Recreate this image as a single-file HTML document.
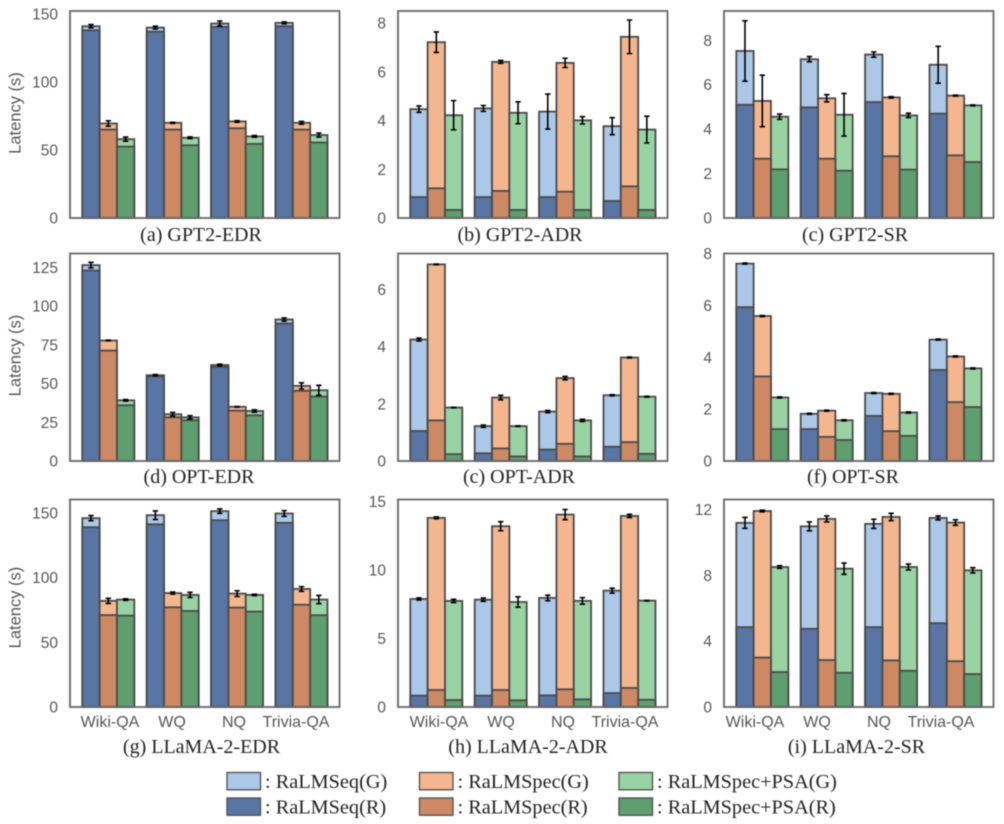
<!DOCTYPE html>
<html lang="en">
<head>
<meta charset="utf-8">
<title>Latency of RaLMSeq and RaLMSpec</title>
<style>
html,body{margin:0;padding:0;background:#fff;}
#chart{display:block;width:1004px;height:824px;filter:blur(0.45px);}
.tick{font-family:"Liberation Sans",sans-serif;font-size:15.5px;fill:#555;}
.ylab{font-family:"Liberation Sans",sans-serif;font-size:16.5px;fill:#555;}
.cap{font-family:"Liberation Serif",serif;font-size:20px;fill:#222;}
.legtext{font-family:"Liberation Serif",serif;font-size:20.3px;fill:#222;}
</style>
</head>
<body>
<svg id="chart" xmlns="http://www.w3.org/2000/svg" width="1004" height="824" viewBox="0 0 1004 824">
  <g id="plots"></g>
  <g id="legend"></g>
</svg>
<script>
/* Categories and series */
const categories = ['Wiki-QA', 'WQ', 'NQ', 'Trivia-QA'];
const methods = ['RaLMSeq', 'RaLMSpec', 'RaLMSpec+PSA'];

/* Each panel: one row per method, one value per category */
const gpt2EdrG = [[141, 140, 143, 143.5], [69.5, 70, 71, 70], [58, 59, 60, 61]];
const gpt2EdrR = [[138, 137, 140.5, 141], [65, 65, 66, 65], [52.5, 53.5, 54.5, 55.5]];
const gpt2EdrErr = [[1.2, 1, 1.8, 0.7], [2, 0.4, 0.6, 1], [1.5, 0.6, 0.6, 1.5]];
const gpt2EdrTicks = [0, 50, 100, 150];

const gpt2AdrG = [[4.47, 4.5, 4.37, 3.77], [7.22, 6.41, 6.37, 7.44], [4.22, 4.32, 4.01, 3.63]];
const gpt2AdrR = [[0.86, 0.86, 0.86, 0.7], [1.22, 1.11, 1.08, 1.3], [0.33, 0.33, 0.33, 0.33]];
const gpt2AdrErr = [[0.13, 0.12, 0.72, 0.35], [0.42, 0.06, 0.19, 0.69], [0.6, 0.45, 0.15, 0.55]];
const gpt2AdrTicks = [0, 2, 4, 6, 8];

const gpt2SrG = [[7.52, 7.15, 7.36, 6.9], [5.27, 5.39, 5.43, 5.51], [4.56, 4.65, 4.62, 5.07]];
const gpt2SrR = [[5.1, 4.98, 5.22, 4.7], [2.67, 2.67, 2.78, 2.82], [2.19, 2.13, 2.18, 2.52]];
const gpt2SrErr = [[1.36, 0.12, 0.12, 0.83], [1.16, 0.16, 0.03, 0.02], [0.12, 0.96, 0.1, 0.02]];
const gpt2SrTicks = [0, 2, 4, 6, 8];

const optEdrG = [[126.5, 55.4, 62, 91.4], [77.8, 30.2, 35, 48.5], [39.2, 28.2, 32.3, 45.7]];
const optEdrR = [[123, 54.7, 60.8, 88.8], [71.3, 28.2, 32.5, 45.3], [36, 26.3, 29.5, 41.6]];
const optEdrErr = [[1.8, 0.4, 0.5, 1], [0.2, 1.2, 0.2, 2], [0.5, 1.1, 0.8, 3.2]];
const optEdrTicks = [0, 25, 50, 75, 100, 125];

const optAdrG = [[4.25, 1.22, 1.73, 2.3], [6.88, 2.22, 2.9, 3.62], [1.87, 1.22, 1.42, 2.25]];
const optAdrR = [[1.05, 0.27, 0.4, 0.5], [1.42, 0.44, 0.6, 0.66], [0.24, 0.16, 0.16, 0.25]];
const optAdrErr = [[0.05, 0.04, 0.04, 0.02], [0.01, 0.08, 0.06, 0.015], [0.01, 0.01, 0.04, 0.015]];
const optAdrTicks = [0, 2, 4, 6];

const optSrG = [[7.61, 1.82, 2.62, 4.68], [5.59, 1.94, 2.59, 4.03], [2.45, 1.57, 1.87, 3.57]];
const optSrR = [[5.93, 1.23, 1.74, 3.51], [3.26, 0.93, 1.15, 2.27], [1.23, 0.81, 0.97, 2.08]];
const optSrErr = [[0.02, 0.02, 0.02, 0.02], [0.02, 0.02, 0.02, 0.02], [0.02, 0.02, 0.02, 0.02]];
const optSrTicks = [0, 2, 4, 6, 8];

const llamaEdrG = [[145.9, 148.2, 151.3, 149.5], [82, 88, 87.6, 91.2], [83, 86.6, 86.6, 83]];
const llamaEdrR = [[138.9, 141.2, 144.3, 142.3], [71, 77, 76.8, 79], [70.6, 74.2, 73.7, 70.9]];
const llamaEdrErr = [[2, 3.3, 1.7, 2.2], [2, 0.8, 2.2, 1.8], [0.6, 2, 0.5, 3.2]];
const llamaEdrTicks = [0, 50, 100, 150];

const llamaAdrG = [[7.88, 7.83, 7.96, 8.49], [13.8, 13.19, 14.04, 13.94], [7.74, 7.66, 7.74, 7.76]];
const llamaAdrR = [[0.83, 0.83, 0.85, 1.02], [1.24, 1.24, 1.29, 1.39], [0.51, 0.49, 0.56, 0.53]];
const llamaAdrErr = [[0.08, 0.12, 0.2, 0.18], [0.07, 0.33, 0.37, 0.12], [0.12, 0.38, 0.24, 0.02]];
const llamaAdrTicks = [0, 5, 10, 15];

const llamaSrG = [[11.18, 10.97, 11.12, 11.48], [11.9, 11.42, 11.54, 11.2], [8.5, 8.4, 8.5, 8.3]];
const llamaSrR = [[4.85, 4.75, 4.85, 5.09], [3.0, 2.85, 2.83, 2.78], [2.12, 2.08, 2.2, 2.0]];
const llamaSrErr = [[0.33, 0.27, 0.28, 0.12], [0.05, 0.18, 0.22, 0.17], [0.08, 0.34, 0.18, 0.16]];
const llamaSrTicks = [0, 4, 8, 12];

/* Layout */
const colLeft = [70, 398, 724];
const panelWidth = 269.5;
const rowTop = [11, 253.5, 499.5];
const rowBottom = [218, 461, 707];
const colorsG = ['#abc8e8', '#f3b68f', '#9ad3a3'];
const colorsR = ['#5875a4', '#cc8963', '#5f9e6e'];
const groupStart = 12.3;
const groupStep = 64.4;
const barWidth = 17.33;

const panels = [
  {key: 'gpt2-edr', cap: '(a) GPT2-EDR', capX: 201, row: 0, col: 0, yMax: 152.2, g: gpt2EdrG, r: gpt2EdrR, e: gpt2EdrErr, t: gpt2EdrTicks},
  {key: 'gpt2-adr', cap: '(b) GPT2-ADR', capX: 520, row: 0, col: 1, yMax: 8.5, g: gpt2AdrG, r: gpt2AdrR, e: gpt2AdrErr, t: gpt2AdrTicks},
  {key: 'gpt2-sr', cap: '(c) GPT2-SR', capX: 855, row: 0, col: 2, yMax: 9.32, g: gpt2SrG, r: gpt2SrR, e: gpt2SrErr, t: gpt2SrTicks},
  {key: 'opt-edr', cap: '(d) OPT-EDR', capX: 199, row: 1, col: 0, yMax: 134, g: optEdrG, r: optEdrR, e: optEdrErr, t: optEdrTicks},
  {key: 'opt-adr', cap: '(c) OPT-ADR', capX: 519, row: 1, col: 1, yMax: 7.26, g: optAdrG, r: optAdrR, e: optAdrErr, t: optAdrTicks},
  {key: 'opt-sr', cap: '(f) OPT-SR', capX: 853, row: 1, col: 2, yMax: 8.0, g: optSrG, r: optSrR, e: optSrErr, t: optSrTicks},
  {key: 'llama-edr', cap: '(g) LLaMA-2-EDR', capX: 201.5, row: 2, col: 0, yMax: 160.3, g: llamaEdrG, r: llamaEdrR, e: llamaEdrErr, t: llamaEdrTicks, labelX: 110},
  {key: 'llama-adr', cap: '(h) LLaMA-2-ADR', capX: 528, row: 2, col: 1, yMax: 15.14, g: llamaAdrG, r: llamaAdrR, e: llamaAdrErr, t: llamaAdrTicks, labelX: 439},
  {key: 'llama-sr', cap: '(i) LLaMA-2-SR', capX: 856.5, row: 2, col: 2, yMax: 12.6, g: llamaSrG, r: llamaSrR, e: llamaSrErr, t: llamaSrTicks, labelX: 755}
];
const capY = [241, 483, 753];
const yTitleY = [113, 355.5, 607.5];
const labelStep = 62;

const SVG_NS = 'http://www.w3.org/2000/svg';
function mk(parent, tag, attrs, text) {
  const node = document.createElementNS(SVG_NS, tag);
  for (const k in attrs) node.setAttribute(k, attrs[k]);
  if (text !== undefined) node.textContent = text;
  parent.appendChild(node);
  return node;
}
function barRect(parent, x, y0, y1, fill) {
  return mk(parent, 'rect', {x: x, y: y1, width: barWidth, height: Math.max(0, y0 - y1), fill: fill, stroke: '#4a4a4a', 'stroke-width': 1.8});
}

const plots = document.getElementById('plots');

panels.forEach(function (p) {
  const left = colLeft[p.col];
  const top = rowTop[p.row];
  const bottom = rowBottom[p.row];
  const yScale = function (v) { return bottom - (v / p.yMax) * (bottom - top); };
  const xScale = function (c, m) { return left + groupStart + c * groupStep + m * barWidth; };

  const g = mk(plots, 'g', {});
  
  

  p.t.forEach(function (v) {
    const tick = mk(g, 'text', {class: 'tick', x: left - 12, y: yScale(v) + 5.5, 'text-anchor': 'end'}, String(v));
    
    
  });

  categories.forEach(function (cat, c) {
    methods.forEach(function (method, m) {
      const light = barRect(g, xScale(c, m), bottom, yScale(p.g[m][c]), colorsG[m]);
      
      
    });
    methods.forEach(function (method, m) {
      const dark = barRect(g, xScale(c, m), bottom, yScale(p.r[m][c]), colorsR[m]);
      
      
    });
  });

  categories.forEach(function (cat, c) {
    methods.forEach(function (method, m) {
      const cx = xScale(c, m) + barWidth / 2;
      const hi = yScale(p.g[m][c] + p.e[m][c]);
      const lo = yScale(p.g[m][c] - p.e[m][c]);
      const d = 'M' + cx + ' ' + hi + 'V' + lo + 'M' + (cx - 2.7) + ' ' + hi + 'H' + (cx + 2.7) + 'M' + (cx - 2.7) + ' ' + lo + 'H' + (cx + 2.7);
      const err = mk(g, 'path', {d: d, fill: 'none', stroke: '#000', 'stroke-width': 1.6});
      
      
    });
  });

  const frame = mk(g, 'rect', {x: left, y: top, width: panelWidth, height: bottom - top, fill: 'none', stroke: '#666', 'stroke-width': 1.8});
  
  

  if (p.labelX !== undefined) {
    categories.forEach(function (cat, c) {
      const xl = mk(g, 'text', {class: 'tick', x: p.labelX + c * labelStep, y: 727, 'text-anchor': 'middle', style: 'font-size:16px'}, cat);
      
      
    });
  }

  if (p.col === 0) {
    const cy = yTitleY[p.row];
    const yt = mk(g, 'text', {class: 'ylab', x: 0, y: 0, 'text-anchor': 'middle', transform: 'translate(20.5 ' + cy + ') rotate(-90)'}, 'Latency (s)');
    
    
  }

  const cap = mk(g, 'text', {class: 'cap', x: p.capX, y: capY[p.row], 'text-anchor': 'middle'}, p.cap);
  
  
});

/* Legend */
const legendX = [227, 419.5, 619];
const legendRowY = [772.5, 798];
const legendColors = [colorsG, colorsR];
const legendSuffix = ['(G)', '(R)'];
const legendRoot = document.getElementById('legend');
methods.forEach(function (method, m) {
  legendRowY.forEach(function (ly, r) {
    const sw = mk(legendRoot, 'rect', {x: legendX[m], y: ly, width: 33.5, height: 17.3, fill: legendColors[r][m], stroke: '#555', 'stroke-width': 1.4});
    
    
    const lt = mk(legendRoot, 'text', {class: 'legtext', x: legendX[m] + 38, y: ly + 15.3}, ': ' + method + legendSuffix[r]);
    
    
  });
});
</script>
</body>
</html>
